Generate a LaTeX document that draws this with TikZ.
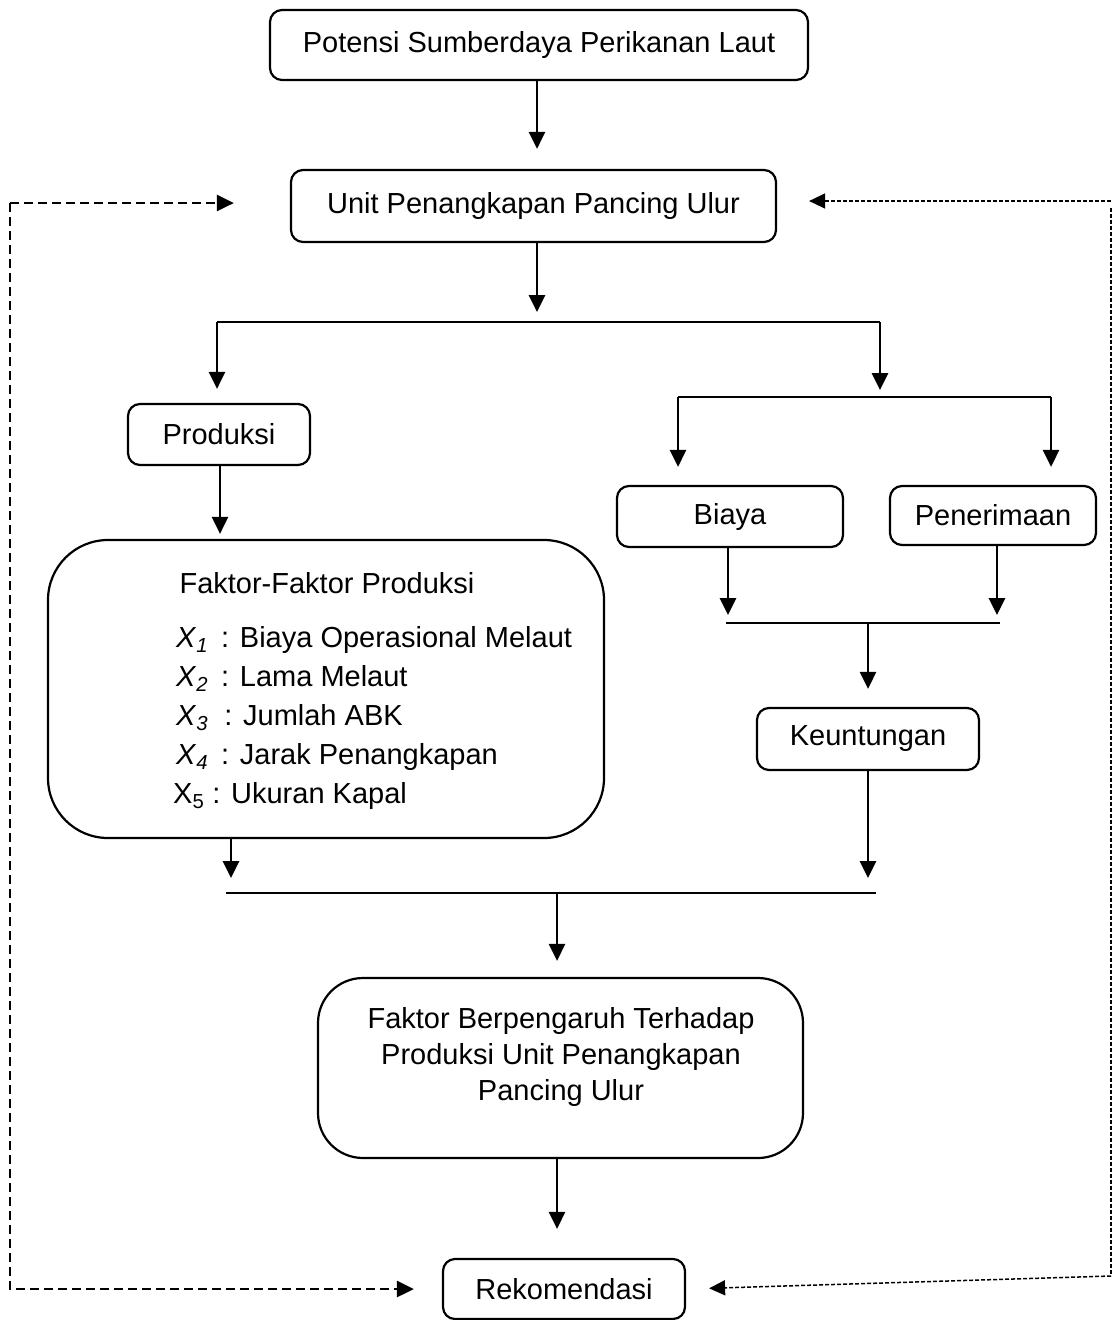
\documentclass[tikz,border=0pt]{standalone}
\usepackage{fontspec}
\setmainfont{Liberation Sans}
\usetikzlibrary{arrows.meta}
\begin{document}
\begin{tikzpicture}[x=1pt,y=-1pt,
  box/.style={draw, line width=2.2pt, rounded corners=12pt, align=center, inner sep=0pt, font=\fontsize{29}{36}\selectfont},
  txt/.style={inner sep=0pt, font=\fontsize{29}{36}\selectfont},
  arr/.style={line width=2.8pt, -{Triangle[length=17pt,width=16pt]}},
  ln/.style={line width=2.8pt},
  dl/.style={line width=2.8pt, dash pattern=on 9pt off 5pt, -{Triangle[length=17pt,width=16pt]}},
  dt/.style={line width=1.5pt, dash pattern=on 4pt off 2pt, -{Triangle[length=16pt,width=15pt]}}]
\useasboundingbox (0,0) rectangle (1114,1320);

% boxes
\node[box, minimum width=538pt, minimum height=70pt] (b1) at (539,45) {Potensi Sumberdaya Perikanan Laut};
\node[box, minimum width=485pt, minimum height=72pt] (b2) at (533.5,206) {Unit Penangkapan Pancing Ulur};
\node[box, minimum width=182pt, minimum height=61pt] (prod) at (219,434.5) {Produksi};
\node[box, minimum width=556pt, minimum height=298pt, rounded corners=60pt] (fak) at (326,689) {};
\node[txt] (fakT) at (327,583) {Faktor-Faktor Produksi};
\node[txt, anchor=base west] (x1) at (176,647) {\textit{X}\textsubscript{\textit{1}}\, : Biaya Operasional Melaut};
\node[txt, anchor=base west] (x2) at (176,686) {\textit{X}\textsubscript{\textit{2}}\, : Lama Melaut};
\node[txt, anchor=base west] (x3) at (176,725) {\textit{X}\textsubscript{\textit{3}} \ : Jumlah ABK};
\node[txt, anchor=base west] (x4) at (176,764) {\textit{X}\textsubscript{\textit{4}}\, : Jarak Penangkapan};
\node[txt, anchor=base west] (x5) at (173,803) {X\textsubscript{5} : Ukuran Kapal};
\node[box, minimum width=226pt, minimum height=61pt] (biaya) at (730,516.5) {Biaya};
\node[box, minimum width=206pt, minimum height=59pt] (pen) at (993,515.5) {Penerimaan};
\node[box, minimum width=222pt, minimum height=62pt] (keu) at (868,739) {Keuntungan};
\node[box, minimum width=485pt, minimum height=180pt, rounded corners=45pt] (fb) at (560.5,1068) {};
\node[txt, align=center] (fbT) at (561,1057) {Faktor Berpengaruh Terhadap\\Produksi Unit Penangkapan\\Pancing Ulur};
\node[box, minimum width=242pt, minimum height=60pt] (rek) at (564,1289) {Rekomendasi};

% junction coordinates
\coordinate (s1L) at (217,322);
\coordinate (s1R) at (880,322);
\coordinate (s1M) at (537,322);
\coordinate (s2L) at (678,397);
\coordinate (s2R) at (1051,397);
\coordinate (s2M) at (880,397);
\coordinate (s3L) at (726,623);
\coordinate (s3R) at (1000,623);
\coordinate (s3a) at (728,623);
\coordinate (s3b) at (997,623);
\coordinate (s3M) at (868,623);
\coordinate (s4L) at (226,893);
\coordinate (s4R) at (876,893);
\coordinate (s4a) at (231,893);
\coordinate (s4b) at (868,893);
\coordinate (s4M) at (557,893);
\coordinate (b1x) at (537,150);
\coordinate (prx) at (220,540);

% solid connectors
\draw[arr, shorten >=20pt] (b1.south -| b1x) -- (b2.north -| b1x);
\draw[arr, shorten >=10pt] (b2.south -| s1M) -- (s1M);
\draw[ln] (s1L) -- (s1R);
\draw[arr, shorten >=14pt] (s1L) -- (prod.north -| s1L);
\draw[arr, shorten >=7pt] (s1R) -- (s2M);
\draw[ln] (s2L) -- (s2R);
\draw[arr, shorten >=18pt] (s2L) -- (biaya.north -| s2L);
\draw[arr, shorten >=18pt] (s2R) -- (pen.north -| s2R);
\draw[arr, shorten >=5pt] (prod.south -| prx) -- (fak.north -| prx);
\draw[arr, shorten >=8pt] (biaya.south -| s3a) -- (s3a);
\draw[arr, shorten >=8pt] (pen.south -| s3b) -- (s3b);
\draw[ln] (s3L) -- (s3R);
\draw[arr, shorten >=18pt] (s3M) -- (keu.north -| s3M);
\draw[arr, shorten >=15pt] (keu.south -| s4b) -- (s4b);
\draw[arr, shorten >=15pt] (fak.south -| s4a) -- (s4a);
\draw[ln] (s4L) -- (s4R);
\draw[arr, shorten >=16pt] (s4M) -- (fb.north -| s4M);
\draw[arr, shorten >=29pt] (fb.south -| s4M) -- (rek.north -| s4M);

% dashed feedback (left)
\coordinate (dlT) at (10,203);
\draw[dl, shorten >=56pt] (dlT) -- (dlT -| b2.west);
\draw[dl, shorten >=28pt] (dlT) |- (rek.west);

% dotted feedback (right)
\coordinate (drT) at (1111,201);
\coordinate (drV) at (1111,208);
\coordinate (drB) at (1111,1276);
\draw[dt, shorten >=32pt] (drT) -- (drT -| b2.east);
\draw[line width=1.5pt, dash pattern=on 4pt off 2pt] (drV) -- (drB);
\draw[dt, shorten >=23pt] (drB) -- (rek.east);
\end{tikzpicture}
\end{document}
